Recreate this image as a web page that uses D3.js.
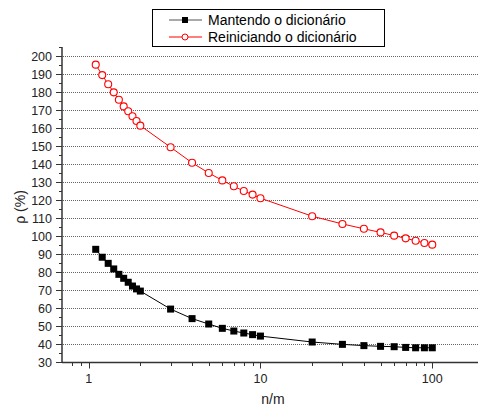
<!DOCTYPE html>
<html>
<head>
<meta charset="utf-8">
<script src="https://cdn.jsdelivr.net/npm/d3@7"></script>
<style>
  body { margin: 0; background: #fff; }
  svg { display: block; font-family: "Liberation Sans", Arial, sans-serif; }
</style>
</head>
<body>
<div id="chart"></div>
<script>
// n/m values (shared by both series)
const nm = [1.1, 1.2, 1.3, 1.4, 1.5, 1.6, 1.7, 1.8, 1.9, 2, 3, 4, 5, 6, 7, 8, 9, 10,
            20, 30, 40, 50, 60, 70, 80, 90, 100];
// rho (%) keeping the dictionary
const mantendo = [92.6, 88.2, 84.8, 81.7, 78.7, 76.5, 74.3, 72.2, 70.6, 69.4,
                  59.4, 54.1, 51.1, 48.7, 47.2, 46.1, 45.2, 44.4,
                  41.1, 39.8, 39.1, 38.7, 38.5, 38.1, 37.9, 37.9, 37.9];
// rho (%) resetting the dictionary
const reiniciando = [195.2, 189.4, 184.3, 179.8, 175.7, 172, 169.3, 166.5, 163.9, 161.3,
                     149.3, 140.7, 135, 130.9, 127.6, 125, 123, 121,
                     111, 106.7, 104, 102, 100.2, 98.7, 97.4, 96.1, 95.2];
const seriesNames = ["Mantendo o dicionário", "Reiniciando o dicionário"];
const xTicks = [1, 10, 100];
const yTicks = d3.range(30, 201, 10);

const width = 478, height = 406;
const margin = {left: 62, top: 47, bottom: 44};

const x = d3.scaleLog().domain([0.7, 200]).range([margin.left, 484]);
const y = d3.scaleLinear().domain([30, 205]).range([height - margin.bottom, margin.top]);

const svg = d3.select("#chart").append("svg")
  .attr("width", width)
  .attr("height", height);

// horizontal dotted grid
svg.append("g")
  .selectAll("line")
  .data(yTicks.filter(d => d > 30))
  .join("line")
    .attr("x1", margin.left + 1)
    .attr("x2", width)
    .attr("y1", d => y(d) + 0.5)
    .attr("y2", d => y(d) + 0.5)
    .attr("stroke", "#666")
    .attr("stroke-width", 1)
    .attr("stroke-dasharray", "1,1");

// x axis
const xMinor = [0.8, 0.9, 2, 3, 4, 5, 6, 7, 8, 9, 20, 30, 40, 50, 60, 70, 80, 90, 200];
const xAxisG = svg.append("g").attr("transform", `translate(0,${y(30) + 0.5})`);
xAxisG.append("line")
  .attr("x1", margin.left).attr("x2", width)
  .attr("stroke", "#333").attr("stroke-width", 1.5);
xAxisG.selectAll(".minor")
  .data(xMinor)
  .join("line")
    .attr("x1", d => Math.round(x(d)) + 0.5).attr("x2", d => Math.round(x(d)) + 0.5)
    .attr("y2", 3.5)
    .attr("stroke", "#333");
xAxisG.selectAll(".major")
  .data(xTicks)
  .join("line")
    .attr("x1", d => Math.round(x(d)) + 0.5).attr("x2", d => Math.round(x(d)) + 0.5)
    .attr("y2", 6)
    .attr("stroke", "#333");
xAxisG.selectAll("text")
  .data(xTicks)
  .join("text")
    .attr("x", d => x(d))
    .attr("y", 20)
    .attr("text-anchor", "middle")
    .attr("font-size", 12.5)
    .attr("fill", "#222")
    .text(d => d);

// y axis
const yAxisG = svg.append("g").attr("transform", `translate(${margin.left},0)`);
yAxisG.append("line")
  .attr("y1", y(205)).attr("y2", y(30) + 1)
  .attr("stroke", "#333").attr("stroke-width", 1.5);
yAxisG.selectAll(".minor")
  .data(d3.range(35, 206, 10))
  .join("line")
    .attr("x1", -3).attr("x2", 0)
    .attr("y1", d => Math.round(y(d)) + 0.5).attr("y2", d => Math.round(y(d)) + 0.5)
    .attr("stroke", "#333");
yAxisG.selectAll(".major")
  .data(yTicks)
  .join("line")
    .attr("x1", -6).attr("x2", 0)
    .attr("y1", d => Math.round(y(d)) + 0.5).attr("y2", d => Math.round(y(d)) + 0.5)
    .attr("stroke", "#333");
yAxisG.selectAll("text")
  .data(yTicks)
  .join("text")
    .attr("x", -10)
    .attr("y", d => y(d))
    .attr("dy", "0.36em")
    .attr("text-anchor", "end")
    .attr("font-size", 12.5)
    .attr("fill", "#222")
    .text(d => d);

// axis titles
svg.append("text")
  .attr("x", 273).attr("y", 404)
  .attr("text-anchor", "middle")
  .attr("font-size", 14)
  .attr("fill", "#222")
  .text("n/m");
svg.append("text")
  .attr("transform", "translate(25,207) rotate(-90)")
  .attr("text-anchor", "middle")
  .attr("font-size", 14)
  .attr("fill", "#222")
  .text("ρ (%)");

// series
const line = d3.line().x(d => x(d[0])).y(d => y(d[1]));
const blackData = nm.map((d, i) => [d, mantendo[i]]);
const redData = nm.map((d, i) => [d, reiniciando[i]]);

svg.append("path")
  .datum(blackData)
  .attr("d", line)
  .attr("fill", "none")
  .attr("stroke", "#000")
  .attr("stroke-width", 1);
svg.append("g")
  .selectAll("rect")
  .data(blackData)
  .join("rect")
    .attr("x", d => x(d[0]) - 3.5)
    .attr("y", d => y(d[1]) - 3.5)
    .attr("width", 7)
    .attr("height", 7)
    .attr("fill", "#000");

svg.append("path")
  .datum(redData)
  .attr("d", line)
  .attr("fill", "none")
  .attr("stroke", "#f00")
  .attr("stroke-width", 1);
svg.append("g")
  .selectAll("circle")
  .data(redData)
  .join("circle")
    .attr("cx", d => x(d[0]))
    .attr("cy", d => y(d[1]))
    .attr("r", 3.5)
    .attr("fill", "#fff")
    .attr("stroke", "#f00")
    .attr("stroke-width", 1.1);

// legend
const legend = svg.append("g");
legend.append("rect")
  .attr("x", 152.5).attr("y", 9.5)
  .attr("width", 232).attr("height", 37)
  .attr("fill", "#fff")
  .attr("stroke", "#000");
const legItems = legend.selectAll(".item")
  .data(seriesNames)
  .join("g")
    .attr("transform", (d, i) => `translate(0,${20 + i * 17})`);
legItems.append("line")
  .attr("x1", 169).attr("x2", 202)
  .attr("stroke", (d, i) => i === 0 ? "#555" : "#f00")
  .attr("stroke-width", 1.2);
legItems.filter((d, i) => i === 0).append("rect")
  .attr("x", 182).attr("y", -3).attr("width", 6).attr("height", 6).attr("fill", "#000");
legItems.filter((d, i) => i === 1).append("circle")
  .attr("cx", 185).attr("r", 3).attr("fill", "#fff").attr("stroke", "#f00");
legItems.append("text")
  .attr("x", 208)
  .attr("dy", "0.36em")
  .attr("font-size", 14)
  .attr("fill", "#000")
  .text(d => d);
</script>
</body>
</html>
